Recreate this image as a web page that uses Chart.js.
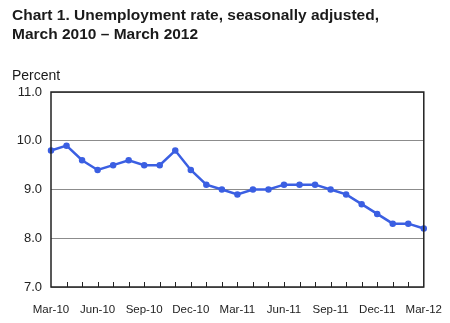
<!DOCTYPE html>
<html>
<head>
<meta charset="utf-8">
<script src="https://cdn.jsdelivr.net/npm/chart.js@4.4.1/dist/chart.umd.min.js"></script>
<style>
  html, body { margin: 0; padding: 0; background: #fff; }
  #wrap { position: relative; width: 450px; height: 323px; font-family: "Liberation Sans", Arial, sans-serif; color: #1a1a1a; }
  #title { position: absolute; left: 12px; top: 5px; font-size: 15.5px; font-weight: bold; line-height: 19px; }
  #unit { position: absolute; left: 12px; top: 67px; font-size: 14px; }
  canvas { position: absolute; left: 0; top: 0; }
</style>
</head>
<body>
<div id="wrap">
  <canvas id="chart" width="450" height="323"></canvas>
  <div id="title">Chart 1. Unemployment rate, seasonally adjusted,<br>March 2010 – March 2012</div>
  <div id="unit">Percent</div>
</div>
<script>
// months, Mar 2010 .. Mar 2012
const months = [
  'Mar-10', 'Apr-10', 'May-10', 'Jun-10', 'Jul-10', 'Aug-10', 'Sep-10', 'Oct-10', 'Nov-10',
  'Dec-10', 'Jan-11', 'Feb-11', 'Mar-11', 'Apr-11', 'May-11', 'Jun-11', 'Jul-11', 'Aug-11',
  'Sep-11', 'Oct-11', 'Nov-11', 'Dec-11', 'Jan-12', 'Feb-12', 'Mar-12'
];
const rate = [
  9.8, 9.9, 9.6, 9.4, 9.5, 9.6, 9.5, 9.5, 9.8,
  9.4, 9.1, 9.0, 8.9, 9.0, 9.0, 9.1, 9.1, 9.1,
  9.0, 8.9, 8.7, 8.5, 8.3, 8.3, 8.2
];
const yTicks = [7, 8, 9, 10, 11];

const lineBlue = '#3b5fe2';

// inward tick marks on the month axis + box around the plot
const frame = {
  id: 'frame',
  afterDraw(chart) {
    const ctx = chart.ctx;
    const a = chart.chartArea;
    const x = chart.scales.x;
    ctx.save();
    ctx.strokeStyle = '#222';
    ctx.lineWidth = 1;
    for (let i = 1; i < months.length - 1; i++) {
      const px = Math.round(x.getPixelForValue(i)) + 0.5;
      ctx.beginPath();
      ctx.moveTo(px, a.bottom);
      ctx.lineTo(px, a.bottom - 5);
      ctx.stroke();
    }
    ctx.lineWidth = 1.5;
    ctx.strokeRect(a.left, a.top, a.right - a.left, a.bottom - a.top);
    ctx.restore();
  }
};

new Chart(document.getElementById('chart'), {
  type: 'line',
  data: {
    labels: months,
    datasets: [{
      data: rate,
      borderColor: lineBlue,
      backgroundColor: lineBlue,
      borderWidth: 2.5,
      pointRadius: 2,
      pointHoverRadius: 2,
      tension: 0
    }]
  },
  options: {
    responsive: false,
    animation: false,
    layout: { padding: { top: 92, right: 23, bottom: 0, left: 0 } },
    plugins: { legend: { display: false }, tooltip: { enabled: false } },
    scales: {
      x: {
        offset: false,
        grid: { display: false },
        border: { display: false },
        afterFit(s) { s.height = 36; },
        ticks: {
          autoSkip: false,
          maxRotation: 0,
          padding: 8,
          color: '#222',
          font: { family: 'Liberation Sans', size: 11.5 },
          callback(v, i) { return i % 3 === 0 ? months[i] : ''; }
        }
      },
      y: {
        min: 7,
        max: 11,
        afterFit(s) { s.width = 51; },
        afterBuildTicks(s) { s.ticks = yTicks.map(v => ({ value: v })); },
        border: { display: false },
        grid: {
          drawTicks: false,
          color: '#8c8c8c',
          lineWidth: 1
        },
        ticks: {
          padding: 9,
          color: '#222',
          font: { family: 'Liberation Sans', size: 13 },
          callback(v) { return v.toFixed(1); }
        }
      }
    }
  },
  plugins: [frame]
});
</script>
</body>
</html>
